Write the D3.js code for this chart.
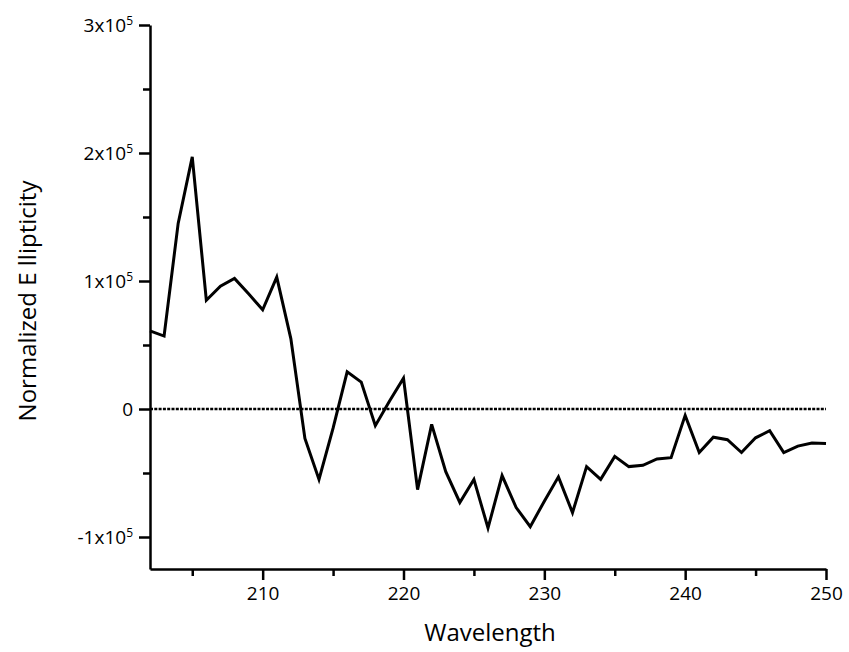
<!DOCTYPE html>
<html>
<head>
<meta charset="utf-8">
<script src="https://cdn.jsdelivr.net/npm/d3@7"></script>
<style>
  body { margin: 0; background: #fff; }
  text { font-family: "Open Sans", sans-serif; fill: #000; }
</style>
</head>
<body>
<div id="chart"></div>
<script>
var width = 849;
var height = 652;
var margin = { top: 25, right: 23, bottom: 83, left: 150 };

// wavelength (nm) and normalized ellipticity
var wavelengths = [202, 203, 204, 205, 206, 207, 208, 209, 210, 211, 212, 213, 214, 215, 216, 217, 218, 219, 220,
  221, 222, 223, 224, 225, 226, 227, 228, 229, 230, 231, 232, 233, 234, 235, 236, 237, 238, 239, 240,
  241, 242, 243, 244, 245, 246, 247, 248, 249, 250];
var ellipticity = [61000, 57000, 145000, 197000, 85000, 96000, 102000, 90000, 77500, 103000, 55000, -23000, -55000,
  -15000, 29000, 21000, -13000, 6000, 24000, -63000, -12000, -49000, -73000, -55000, -93000, -52000, -77000,
  -92000, -72000, -53000, -81000, -45000, -55000, -37000, -45000, -44000, -39000, -38000, -5000, -34000,
  -22000, -24000, -34000, -22500, -17000, -34000, -29000, -26500, -27000];

var xTicks = [210, 220, 230, 240, 250];
var xMinorTicks = [205, 215, 225, 235, 245];
var yTicks = [-100000, 0, 100000, 200000, 300000];
var yMinorTicks = [-50000, 50000, 150000, 250000];
var yTickLabels = ["-1x10", "0", "1x10", "2x10", "3x10"];

var innerW = width - margin.left - margin.right;
var innerH = height - margin.top - margin.bottom;

const svg = d3
  .select("#chart")
  .append("svg")
  .attr("width", width)
  .attr("height", height)
  .style("background", "#fff");

const g = svg.append("g").attr("transform", `translate(${margin.left},${margin.top})`);

const xScale = d3.scaleLinear().domain([202, 250]).range([0, innerW]);
const yScale = d3.scaleLinear().domain([-125000, 300000]).range([innerH, 0]);

// zero reference line
g.append("line")
  .attr("x1", xScale(202))
  .attr("x2", xScale(250))
  .attr("y1", yScale(0))
  .attr("y2", yScale(0))
  .attr("stroke", "#000")
  .attr("stroke-width", 2.4)
  .attr("stroke-dasharray", "3,1.3");

// minor ticks first so the major axes sit on top
g.append("g")
  .attr("transform", `translate(0,${innerH})`)
  .call(d3.axisBottom(xScale).tickValues(xMinorTicks).tickSize(7).tickFormat(""))
  .call((a) => a.select(".domain").remove());

g.append("g")
  .call(d3.axisLeft(yScale).tickValues(yMinorTicks).tickSize(7).tickFormat(""))
  .call((a) => a.select(".domain").remove());

const xAxis = g
  .append("g")
  .attr("class", "x-axis")
  .attr("transform", `translate(0,${innerH})`)
  .call(d3.axisBottom(xScale).tickValues(xTicks).tickSize(11).tickSizeOuter(0).tickPadding(7));

const yAxis = g
  .append("g")
  .attr("class", "y-axis")
  .call(d3.axisLeft(yScale).tickValues(yTicks).tickSize(11).tickSizeOuter(0).tickFormat(""));

// y labels with a superscript exponent
yAxis
  .selectAll(".tick")
  .append("text")
  .attr("x", -17)
  .attr("dy", "0.36em")
  .style("text-anchor", "end")
  .style("font-size", "19px")
  .each(function (d, i) {
    var t = d3.select(this);
    t.append("tspan").text(yTickLabels[i]);
    if (d !== 0) {
      t.append("tspan").attr("dy", "-0.6em").style("font-size", "12px").text("5");
    }
  });

svg.selectAll(".x-axis text").style("font-size", "19px").attr("fill", "#000");

svg.selectAll(".domain, .tick line").attr("stroke", "#000").attr("stroke-width", 2.5);

// the data line
const line = d3
  .line()
  .x((d, i) => xScale(wavelengths[i]))
  .y((d) => yScale(d));

g.append("path")
  .datum(ellipticity)
  .attr("fill", "none")
  .attr("stroke", "#000")
  .attr("stroke-width", 3)
  .attr("stroke-linejoin", "miter")
  .attr("d", line);

// axis titles
svg
  .append("text")
  .attr("x", margin.left + innerW / 2 + 2)
  .attr("y", 641)
  .style("font-size", "24px")
  .style("text-anchor", "middle")
  .text("Wavelength");

svg
  .append("text")
  .attr("transform", "translate(36, 301) rotate(-90)")
  .style("font-size", "24px")
  .style("text-anchor", "middle")
  .text("Normalized E llipticity");
</script>
</body>
</html>
